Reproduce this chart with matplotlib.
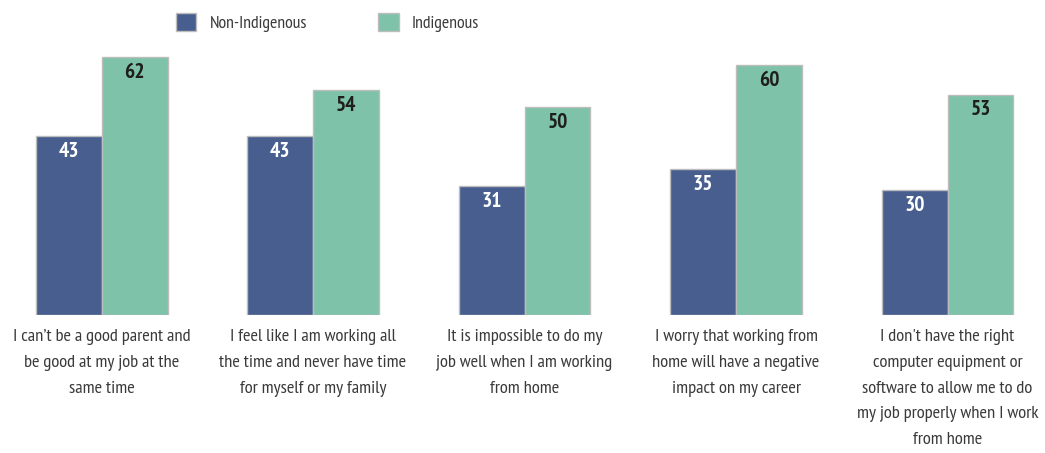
import matplotlib.pyplot as plt
from matplotlib.patches import Patch
import matplotlib.transforms as mtransforms

plt.rcParams['font.family'] = ['PT Sans Narrow', 'DejaVu Sans']

categories = [
    "I can\u2019t be a good parent and\nbe good at my job at the\nsame time",
    "I feel like I am working all\nthe time and never have time\nfor myself or my family",
    "It is impossible to do my\njob well when I am working\nfrom home",
    "I worry that working from\nhome will have a negative\nimpact on my career",
    "I don't have the right\ncomputer equipment or\nsoftware to allow me to do\nmy job properly when I work\nfrom home",
]
non_indigenous = [43, 43, 31, 35, 30]
indigenous = [62, 54, 50, 60, 53]
series_names = ["Non-Indigenous", "Indigenous"]

blue = "#485e8f"
green = "#7ec3a9"
edge = "#bdbdbd"
text_grey = "#3a3a3a"

fig = plt.figure(figsize=(10.45, 4.53), dpi=100)
ax = fig.add_axes([0, 1 - 315 / 453, 1, 315 / 453])

w = 0.312
x = list(range(len(categories)))
b1 = ax.bar([i - w / 2 for i in x], non_indigenous, width=w, color=blue,
            edgecolor=edge, linewidth=1)
b2 = ax.bar([i + w / 2 for i in x], indigenous, width=w, color=green,
            edgecolor=edge, linewidth=1)

off = mtransforms.offset_copy(ax.transData, fig=fig, x=0, y=-15, units='dots')
for r, v in zip(b1, non_indigenous):
    ax.text(r.get_x() + r.get_width() / 2, v, str(v), transform=off,
            ha='center', va='center', color='white', fontsize=15.5,
            fontweight='bold')
for r, v in zip(b2, indigenous):
    ax.text(r.get_x() + r.get_width() / 2, v, str(v), transform=off,
            ha='center', va='center', color='#1e1e1e', fontsize=15.5,
            fontweight='bold')

ax.set_xlim(-0.48, 4.461)
ax.set_ylim(0, 315 / 4.16)
ax.set_xticks(x)
ax.set_xticklabels(categories, fontsize=13.3, color=text_grey, linespacing=1.82)
ax.tick_params(axis='x', length=0, pad=10)
ax.set_yticks([])
for s in ax.spines.values():
    s.set_visible(False)

handles = [Patch(facecolor=blue, edgecolor=edge), Patch(facecolor=green, edgecolor=edge)]
fig.legend(handles, series_names, loc='upper left', bbox_to_anchor=(176 / 1045, 1 - 13 / 453),
           ncol=2, frameon=False, fontsize=12.8, handlelength=1.15, handleheight=1.2,
           handletextpad=0.75, columnspacing=4.0, borderpad=0, borderaxespad=0,
           labelcolor=text_grey)

fig.savefig("out.png", dpi=100)
